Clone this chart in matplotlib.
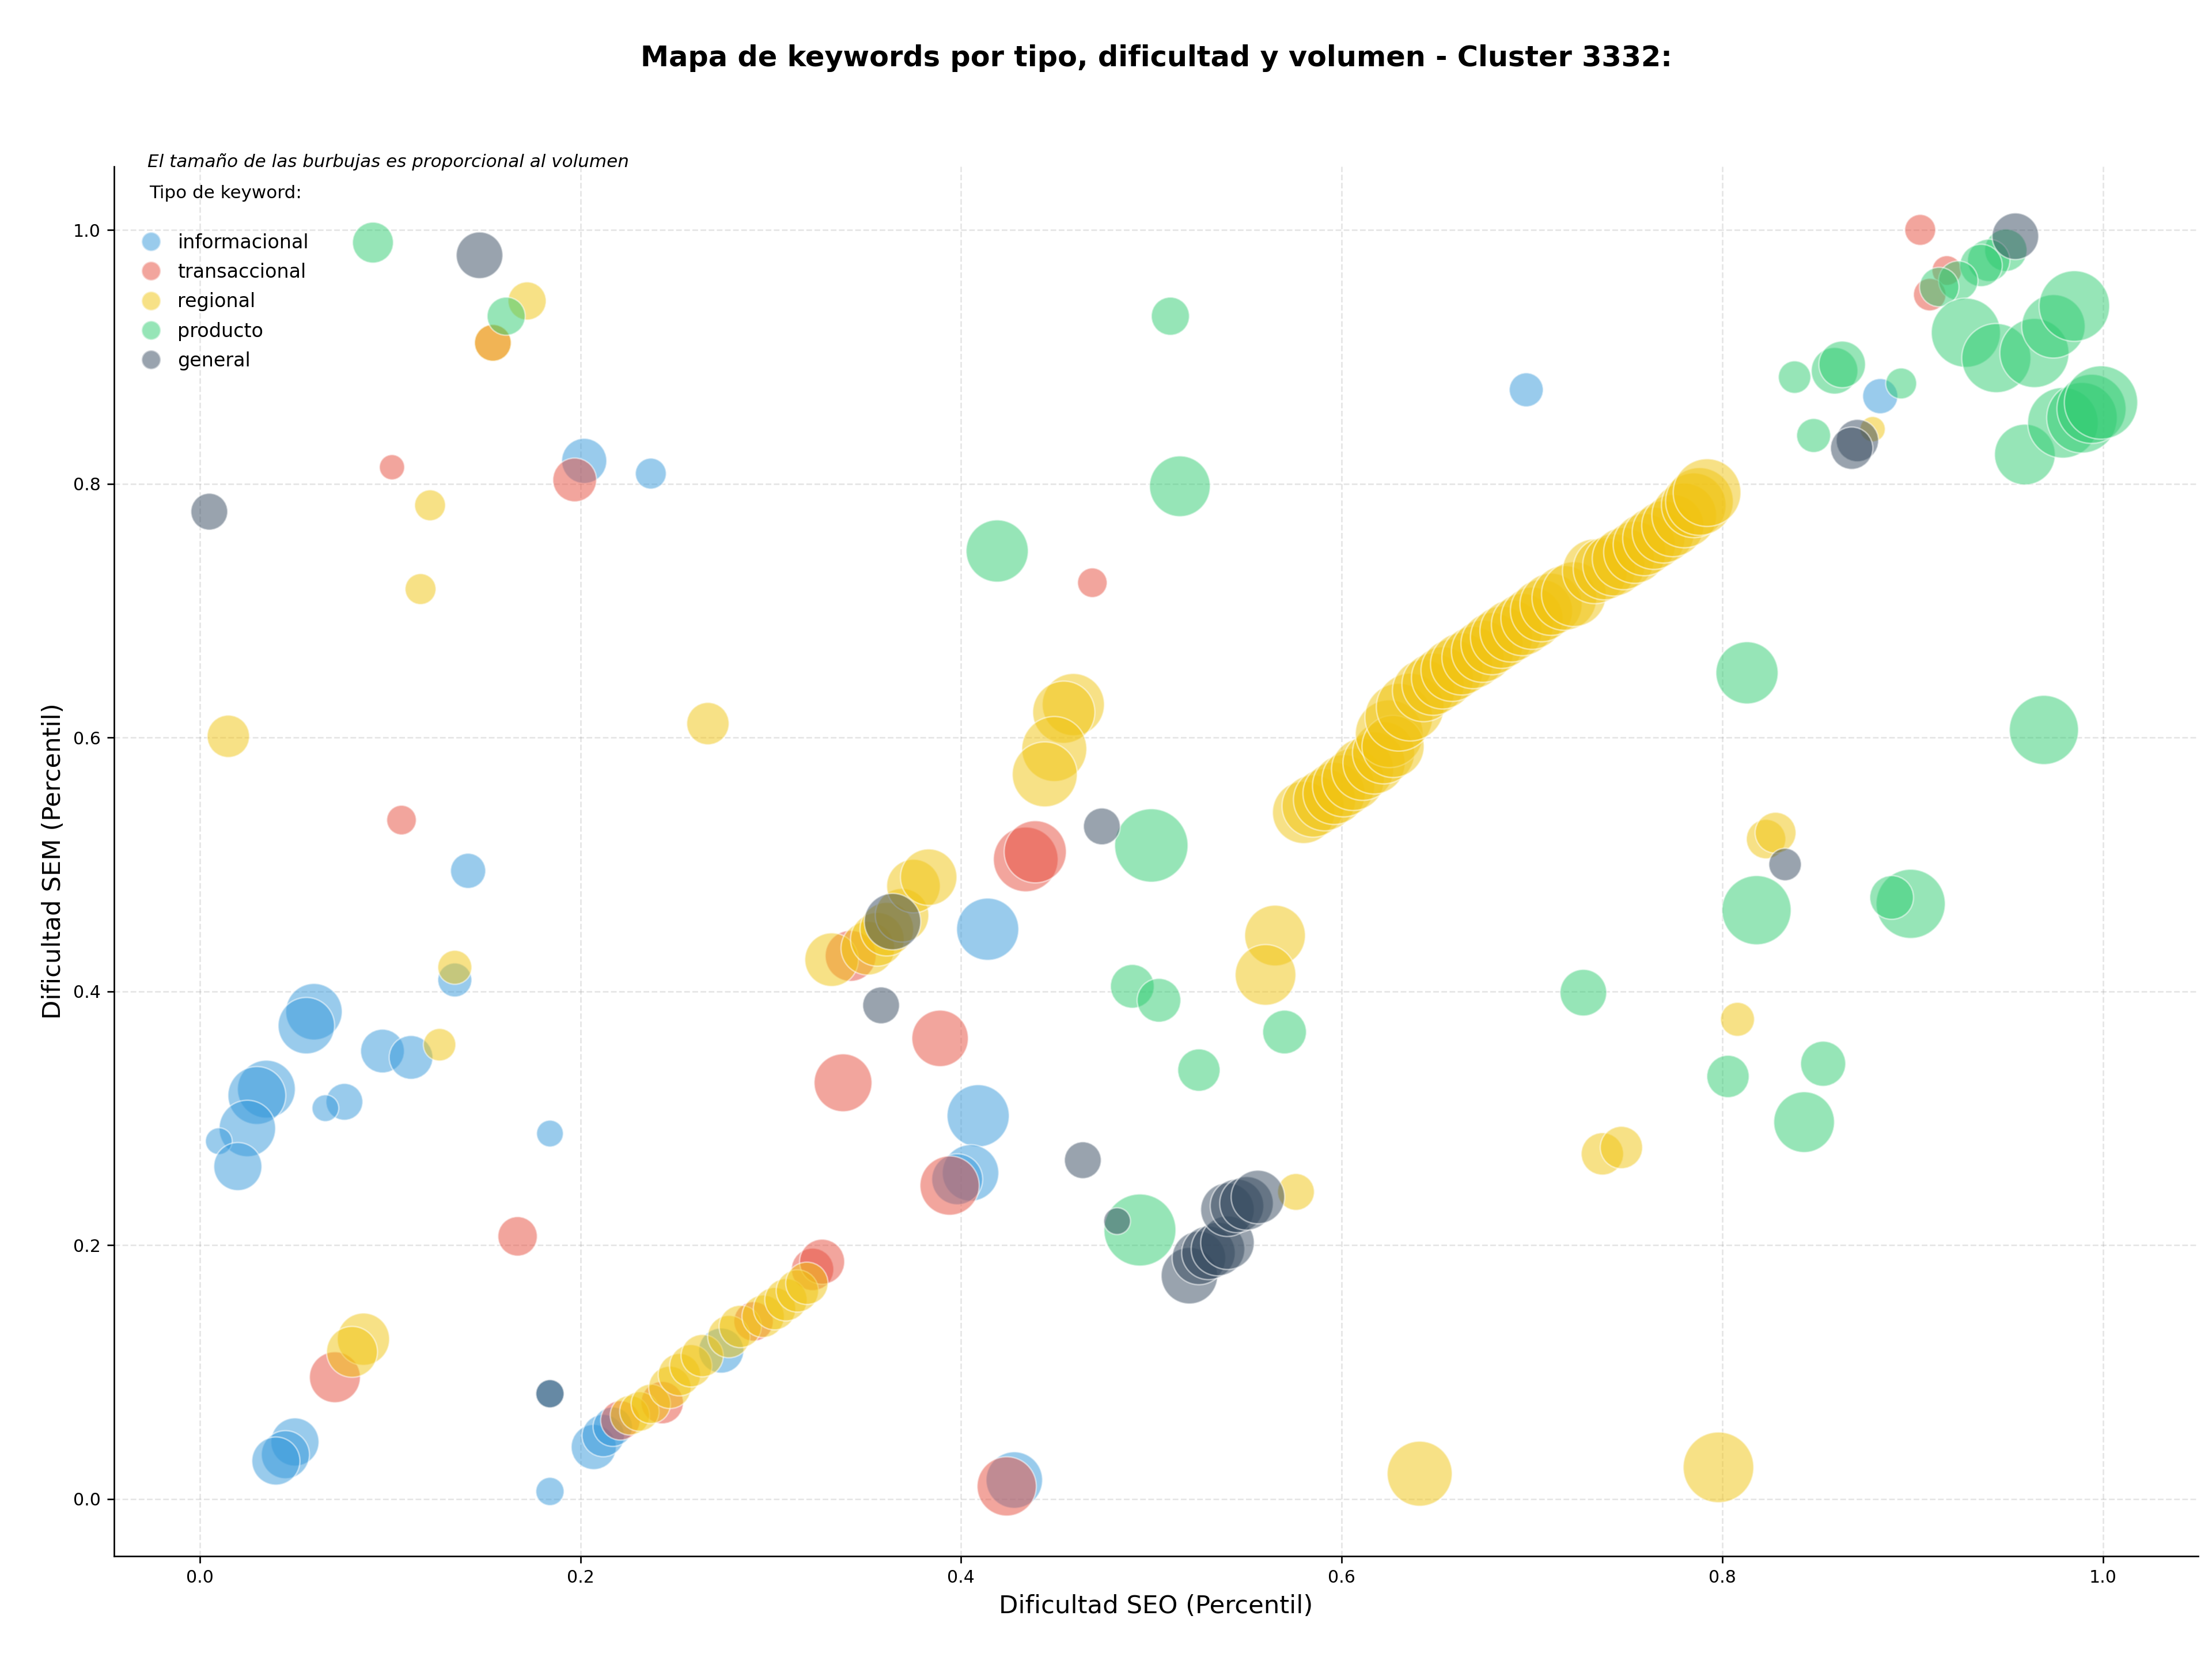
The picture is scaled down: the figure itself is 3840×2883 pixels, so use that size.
import matplotlib
matplotlib.use("Agg")
import matplotlib.pyplot as plt
from matplotlib.lines import Line2D

# categorias y colores
tipos = ["informacional", "transaccional", "regional", "producto", "general"]
colores = ["#3498db", "#e74c3c", "#f1c40f", "#2ecc71", "#34495e"]

# informacional
info_seo = [0.202, 0.237, 0.141, 0.134, 0.060, 0.056, 0.096, 0.111, 0.035, 0.030,
            0.076, 0.066, 0.025, 0.010, 0.020, 0.184, 0.050, 0.045, 0.040, 0.184,
            0.184, 0.207, 0.212, 0.217, 0.274, 0.414, 0.409, 0.405, 0.398, 0.428,
            0.697, 0.883]
info_sem = [0.818, 0.808, 0.495, 0.409, 0.384, 0.373, 0.353, 0.348, 0.323, 0.318,
            0.313, 0.308, 0.292, 0.282, 0.262, 0.288, 0.045, 0.035, 0.030, 0.006,
            0.083, 0.041, 0.050, 0.057, 0.117, 0.449, 0.302, 0.257, 0.252, 0.015,
            0.874, 0.869]
info_vol = [1020, 480, 620, 580, 1600, 1600, 960, 960, 1680, 1680,
            680, 360, 1600, 360, 1160, 360, 1160, 1160, 1160, 400,
            400, 1020, 900, 780, 1020, 1940, 1940, 1600, 1300, 1600,
            580, 620]

# transaccional
trans_seo = [0.904, 0.918, 0.909, 0.101, 0.197, 0.469, 0.106, 0.434, 0.439, 0.389,
             0.338, 0.394, 0.167, 0.071, 0.322, 0.327, 0.243, 0.221, 0.424, 0.154,
             0.342, 0.291]
trans_sem = [1.000, 0.968, 0.949, 0.813, 0.803, 0.722, 0.535, 0.504, 0.510, 0.363,
             0.328, 0.247, 0.207, 0.096, 0.181, 0.187, 0.076, 0.062, 0.010, 0.911,
             0.428, 0.140]
trans_vol = [480, 440, 530, 320, 960, 440, 440, 2100, 1940, 1600,
             1680, 1760, 780, 1300, 900, 1020, 900, 780, 1760, 680,
             1300, 780]

# regional
reg_seo = [0.172, 0.154, 0.121, 0.116, 0.015, 0.267, 0.134, 0.126, 0.086, 0.080,
           0.565, 0.560, 0.576, 0.641, 0.798, 0.808, 0.737, 0.747, 0.823, 0.828,
           0.879, 0.459, 0.454, 0.449, 0.444,
           0.332, 0.351, 0.356, 0.361, 0.369, 0.375, 0.383,
           0.226, 0.231, 0.237, 0.247, 0.252, 0.258, 0.264, 0.278, 0.284, 0.296,
           0.302, 0.308, 0.314, 0.319,
           0.580, 0.585, 0.591, 0.596, 0.601, 0.606, 0.611, 0.617, 0.622, 0.625,
           0.627, 0.630, 0.636, 0.643, 0.648, 0.653, 0.658, 0.663, 0.669, 0.674,
           0.679, 0.684, 0.689, 0.695, 0.700, 0.705, 0.710, 0.717, 0.722, 0.733,
           0.738, 0.743, 0.748, 0.754, 0.759, 0.764, 0.769, 0.774, 0.780, 0.785,
           0.788, 0.792]
reg_sem = [0.944, 0.911, 0.783, 0.717, 0.601, 0.611, 0.419, 0.358, 0.126, 0.116,
           0.444, 0.413, 0.242, 0.020, 0.025, 0.378, 0.272, 0.277, 0.520, 0.525,
           0.843, 0.626, 0.620, 0.591, 0.571,
           0.425, 0.434, 0.441, 0.449, 0.460, 0.483, 0.490,
           0.066, 0.069, 0.075, 0.088, 0.098, 0.105, 0.113, 0.128, 0.136, 0.144,
           0.150, 0.157, 0.164, 0.170,
           0.541, 0.546, 0.551, 0.556, 0.562, 0.567, 0.575, 0.580, 0.588, 0.603,
           0.593, 0.616, 0.624, 0.637, 0.642, 0.647, 0.653, 0.658, 0.663, 0.668,
           0.674, 0.679, 0.684, 0.689, 0.694, 0.700, 0.705, 0.710, 0.713, 0.731,
           0.733, 0.736, 0.741, 0.746, 0.752, 0.757, 0.762, 0.767, 0.775, 0.783,
           0.786, 0.793]
reg_vol = [730, 680, 480, 480, 900, 900, 580, 530, 1370, 1300,
           1850, 1850, 680, 2120, 2500, 580, 900, 900, 780, 840,
           320, 1940, 1940, 2120, 2120,
           1440, 1440, 1440, 1440, 1440, 1440, 1600,
           780, 780, 780, 900, 900, 900, 900, 900, 900, 900,
           900, 900, 900, 900,
           1940, 1940, 1940, 1940, 1940, 1940, 1940, 1940, 1940, 2300,
           1940, 2300, 2300, 1940, 1940, 1940, 1940, 1940, 1940, 1940,
           1940, 1940, 1940, 1940, 1940, 1940, 1940, 2100, 2100, 2100,
           1940, 1940, 1940, 1940, 1940, 1940, 1940, 1940, 2100, 2100,
           2300, 2300]

# producto
prod_seo = [0.091, 0.161, 0.510, 0.515, 0.419, 0.500, 0.490, 0.504, 0.570, 0.525,
            0.494, 0.813, 0.969, 0.818, 0.899, 0.889, 0.727, 0.803, 0.853, 0.843,
            0.949, 0.940, 0.936, 0.924, 0.914, 0.928, 0.944, 0.964, 0.974, 0.985,
            0.959, 0.979, 0.989, 0.994, 0.999, 0.838, 0.859, 0.863, 0.894, 0.848]
prod_sem = [0.990, 0.932, 0.932, 0.798, 0.747, 0.515, 0.404, 0.393, 0.368, 0.338,
            0.212, 0.651, 0.606, 0.464, 0.469, 0.474, 0.399, 0.333, 0.343, 0.297,
            0.984, 0.976, 0.972, 0.960, 0.955, 0.919, 0.899, 0.903, 0.924, 0.940,
            0.823, 0.848, 0.852, 0.859, 0.864, 0.884, 0.889, 0.894, 0.879, 0.838]
prod_vol = [840, 730, 730, 1850, 1940, 2700, 960, 960, 960, 900,
            2600, 1940, 2400, 2400, 2400, 960, 1090, 900, 1020, 1850,
            900, 900, 900, 780, 780, 2400, 2400, 2400, 2020, 2500,
            1850, 2500, 2500, 2400, 2700, 530, 1090, 1090, 480, 580]

# general
gen_seo = [0.954, 0.147, 0.005, 0.364, 0.358, 0.474, 0.464, 0.482, 0.520, 0.525,
           0.530, 0.535, 0.540, 0.540, 0.545, 0.550, 0.556, 0.833, 0.871, 0.868,
           0.184]
gen_sem = [0.995, 0.980, 0.778, 0.455, 0.389, 0.530, 0.267, 0.219, 0.176, 0.190,
           0.194, 0.197, 0.202, 0.228, 0.231, 0.233, 0.238, 0.500, 0.834, 0.828,
           0.083]
gen_vol = [1090, 1090, 680, 1600, 680, 680, 680, 360, 1600, 1440,
           1440, 1440, 1440, 1440, 1440, 1440, 1440, 530, 900, 900,
           400]

datos = [
    (info_seo, info_sem, info_vol),
    (trans_seo, trans_sem, trans_vol),
    (reg_seo, reg_sem, reg_vol),
    (prod_seo, prod_sem, prod_vol),
    (gen_seo, gen_sem, gen_vol),
]

fig = plt.figure(figsize=(16, 12.0125), dpi=240)
ax = fig.add_axes([0.0516, 0.0631, 0.9421, 0.8367])

for tipo, color, (xs, ys, vols) in zip(tipos, colores, datos):
    ax.scatter(xs, ys, s=[v * 0.54 for v in vols], c=color, alpha=0.5,
               edgecolors="white", linewidths=0.8, label=tipo)

ax.set_xlim(-0.045, 1.05)
ax.set_ylim(-0.045, 1.05)
ax.grid(True, linestyle="--", color="gray", alpha=0.2)
ax.set_axisbelow(True)
ax.spines["top"].set_visible(False)
ax.spines["right"].set_visible(False)
ax.tick_params(labelsize=9)

ax.set_xlabel("Dificultad SEO (Percentil)", fontsize=13)
ax.set_ylabel("Dificultad SEM (Percentil)", fontsize=13)
# titulo centrado sobre el eje
ax.text(0.5, 1.078, "Mapa de keywords por tipo, dificultad y volumen - Cluster 3332:",
        transform=ax.transAxes, fontsize=14.8, fontweight="bold",
        ha="center", va="center")

ax.text(0.016, 0.997, "El tamaño de las burbujas es proporcional al volumen",
        transform=ax.transAxes, fontsize=9.3, style="italic", va="bottom")
ax.text(0.0169, 0.9807, "Tipo de keyword:", transform=ax.transAxes,
        fontsize=9.3, va="center")

handles = [Line2D([0], [0], marker="o", linestyle="", markersize=10,
                  markerfacecolor=c, markeredgecolor="white", alpha=0.5)
           for c in colores]
leg = ax.legend(handles, tipos, loc="upper left",
                bbox_to_anchor=(0.0047, 0.9645), frameon=False, fontsize=10,
                handlelength=1.0, handletextpad=0.9, labelspacing=0.55)

fig.savefig("out.png", dpi=240)
